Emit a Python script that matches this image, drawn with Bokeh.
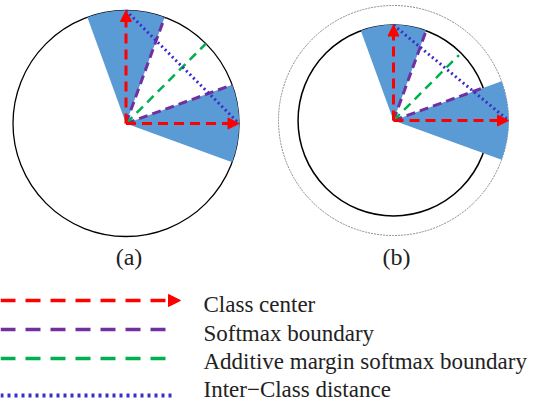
import numpy as np
from bokeh.plotting import figure
from bokeh.models import Range1d, Arrow, NormalHead
from bokeh.core.properties import value
from bokeh.embed import file_html
from bokeh.resources import INLINE

# ---- data ----
panel_labels = ["(a)", "(b)"]
class_center_angles = [90, 0]          # degrees
sector_half_width = 20                 # degrees around each class center
softmax_boundary_angles = [70, 20]     # degrees
am_boundary_angles = [45]              # degrees
norms_a = [1.0, 1.0]                   # relative feature norms, panel (a)
norms_b = [0.83, 1.0]                  # relative feature norms, panel (b)
legend_labels = ["Class center", "Softmax boundary",
                 "Additive margin softmax boundary", "Inter\u2212Class distance"]

# ---- styles / layout ----
W, H = 544, 401
def Y(y):  # image y -> data y
    return H - y

RED = "#FF0000"; PURPLE = "#7030A0"; GREEN = "#00B050"; BLUE_DOT = "#3A2EC8"; SECT = "#5B9BD5"
FONT = value("Liberation Serif")

p = figure(width=W, height=H, x_range=Range1d(0, W), y_range=Range1d(0, H),
           output_backend="svg", toolbar_location=None, min_border=0,
           x_axis_location=None, y_axis_location=None)
p.grid.visible = False
p.outline_line_color = None
p.background_fill_color = "white"
p.border_fill_color = "white"

def pol(cx, cy, r, ang):
    a = np.deg2rad(ang)
    return cx + r * np.cos(a), cy + r * np.sin(a)

panels = [
    dict(cx=125.5, cy=Y(123), R=113, norms=norms_a, outer=None),
    dict(cx=393, cy=Y(120), R=115, norms=norms_b, outer=115),
]

for i, pn in enumerate(panels):
    cx, cy, R = pn["cx"], pn["cy"], pn["R"]
    norms = pn["norms"]
    inner = R * min(norms)
    # circles
    if pn["outer"] is not None:
        p.circle(x=[cx], y=[cy], radius=[pn["outer"]], fill_alpha=0, line_color="#8a8a8a",
                 line_width=1, line_dash="2 1")
        p.circle(x=[cx], y=[cy], radius=[inner], fill_alpha=0, line_color="black", line_width=1.5)
    else:
        p.circle(x=[cx], y=[cy], radius=[R], fill_alpha=0, line_color="black", line_width=1.3)
    # sectors
    for ang, n in zip(class_center_angles, norms):
        p.wedge(x=[cx], y=[cy], radius=[R * n], start_angle=[ang - sector_half_width],
                end_angle=[ang + sector_half_width], start_angle_units="deg",
                end_angle_units="deg", fill_color=SECT, line_color=None)
    # softmax boundaries
    for ang in softmax_boundary_angles:
        r = inner if pn["outer"] is not None else R
        x1, y1 = pol(cx, cy, r, ang)
        p.line([cx, x1], [cy, y1], line_color=PURPLE, line_width=3, line_dash="9 5")
    # additive margin boundary
    for ang in am_boundary_angles:
        r = inner * 0.97 if pn["outer"] is not None else R
        x1, y1 = pol(cx, cy, r, ang)
        p.line([cx, x1], [cy, y1], line_color=GREEN, line_width=2.5, line_dash="9 6")
    # inter-class distance
    tips = [pol(cx, cy, R * n, a) for a, n in zip(class_center_angles, norms)]
    p.line([tips[0][0], tips[1][0]], [tips[0][1], tips[1][1]], line_color=BLUE_DOT,
           line_width=3, line_dash="2 3")
    # class centers
    for (tx, ty) in tips:
        p.add_layout(Arrow(x_start=cx, y_start=cy, x_end=tx, y_end=ty, line_color=RED,
                           line_width=3, line_dash="10 6",
                           end=NormalHead(size=11, fill_color=RED, line_color=RED, line_width=1)))
    p.text(x=[cx + 3], y=[Y(256)], text=[panel_labels[i]], text_font=FONT, text_font_size="24px",
           text_align="center", text_baseline="middle", text_color="#222222")

# ---- legend ----
leg_line_y = [300, 329, 358, 395]
leg_text_y = [304, 333, 361, 389]
x0, x1 = 0, 172
p.add_layout(Arrow(x_start=x0, y_start=Y(leg_line_y[0]), x_end=x1 + 8, y_end=Y(leg_line_y[0]),
                   line_color=RED, line_width=3.5, line_dash="15 10",
                   end=NormalHead(size=12, fill_color=RED, line_color=RED, line_width=1)))
p.line([x0, x1], [Y(leg_line_y[1])] * 2, line_color=PURPLE, line_width=3.5, line_dash="15 10")
p.line([x0, x1], [Y(leg_line_y[2])] * 2, line_color=GREEN, line_width=3.5, line_dash="15 10")
p.line([x0, x1], [Y(leg_line_y[3])] * 2, line_color=BLUE_DOT, line_width=4, line_dash="3 4")
p.text(x=[203] * 4, y=[Y(v) for v in leg_text_y], text=legend_labels, text_font=FONT,
       text_font_size="23px", text_align="left", text_baseline="middle", text_color="#222222")

open("out.html", "w").write(file_html(p, INLINE))
